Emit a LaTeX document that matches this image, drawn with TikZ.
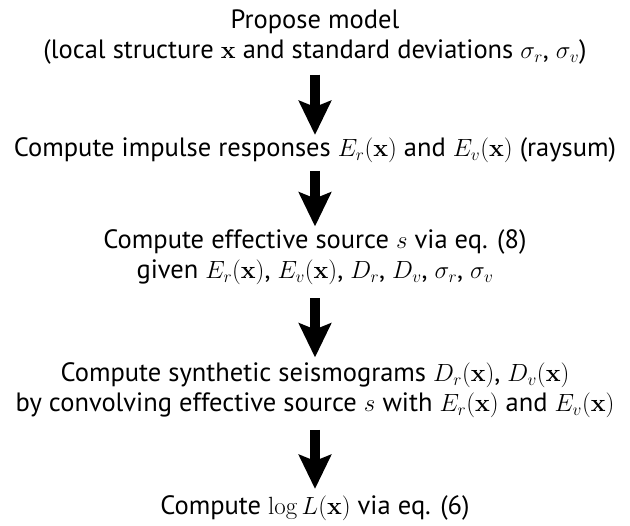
\documentclass[tikz,border=0pt]{standalone}
\usepackage[no-math]{fontspec}
\setmainfont{PT Sans}
\usetikzlibrary{arrows.meta}
\begin{document}
\begin{tikzpicture}[x=1pt,y=-1pt,
  stage/.style={font=\fontsize{26.5}{30.5}\selectfont, align=center, inner sep=0pt, anchor=base},
  flow/.style={line width=10pt, -{Stealth[length=34pt,width=32pt,inset=6pt]}}]
\useasboundingbox (0,0) rectangle (630,526);
% processing stages, top to bottom (anchored at the baseline of their last line)
\node[stage] (propose) at (315,59) {Propose model\\(local structure $\mathbf{x}$ and standard deviations $\sigma_r$, $\sigma_v$)};
\node[stage] (impulse) at (315,157) {Compute impulse responses $E_r(\mathbf{x})$ and $E_v(\mathbf{x})$ (raysum)};
\node[stage] (source) at (315,279) {Compute effective source $s$ via eq. (8)\\given $E_r(\mathbf{x})$, $E_v(\mathbf{x})$, $D_r$, $D_v$, $\sigma_r$, $\sigma_v$};
\node[stage] (synth) at (315,412) {Compute synthetic seismograms $D_r(\mathbf{x})$, $D_v(\mathbf{x})$\\by convolving effective source $s$ with $E_r(\mathbf{x})$ and $E_v(\mathbf{x})$};
\node[stage] (like) at (315,515) {Compute $\log L(\mathbf{x})$ via eq. (6)};
% connectors between stages
\draw[flow] ([yshift=-9.5pt]propose.south) -- ([yshift=3pt]impulse.north);
\draw[flow] ([yshift=-7.5pt]impulse.south) -- ([yshift=3pt]source.north);
\draw[flow] ([yshift=-13pt]source.south) -- ([yshift=5pt]synth.north);
\draw[flow] ([yshift=-11.5pt]synth.south) -- ([yshift=7pt]like.north);
\end{tikzpicture}
\end{document}
